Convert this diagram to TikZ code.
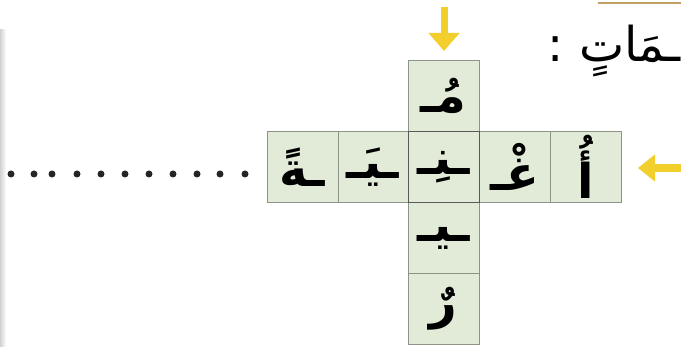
\documentclass[tikz,border=0pt]{standalone}
\usepackage{fontspec}
\usetikzlibrary{arrows.meta}
\TeXXeTstate=1
\newfontfamily\arabicfont[Script=Arabic]{DejaVu Sans}
\definecolor{cellfill}{HTML}{E2EAD8}
\definecolor{celldraw}{HTML}{8C9488}
\definecolor{arrowyel}{HTML}{F2CF2C}
\definecolor{goldline}{HTML}{BFA263}
\tikzset{
  cell/.style={draw=celldraw, fill=cellfill, line width=0.9pt, minimum width=71pt, minimum height=71pt, inner sep=0pt, font=\arabicfont\bfseries\fontsize{48}{52}\selectfont},
  yelarrow/.style={draw=none, fill=arrowyel},
  dotmark/.style={circle, fill=black!85, minimum size=7pt, inner sep=0pt}
}
\begin{document}
\begin{tikzpicture}[x=1pt,y=-1pt]
\useasboundingbox (0,0) rectangle (681,347);
\fill[white] (0,0) rectangle (681,347);
\shade[left color=black!18, right color=white] (0,30) rectangle (6,347);
\draw[goldline, line width=2pt] (598,3) -- (681,3);
% header text
\node[anchor=base east, inner sep=0pt, font=\arabicfont\fontsize{48}{56}\selectfont] (head) at (681,62) {\beginR ـمَاتٍ :\endR};
% horizontal row
\node[cell] (h1) at (586,167) {\beginR أُ\endR};
\node[cell] (h2) at (515,167) {\beginR غْـ\endR};
\node[cell] (h4) at (373,167) {\beginR ـيَـ\endR};
\node[cell] (h5) at (302.5,167) {\beginR ـةً\endR};
% vertical column
\node[cell] (v1) at (443.5,96) {\beginR مُـ\endR};
\node[cell] (v3) at (443.5,238) {\beginR ـيـ\endR};
\node[cell] (v4) at (443.5,308.5) {\beginR رٌ\endR};
\node[cell, draw=black!65] (h3) at (443.5,167) {\beginR ـنِـ\endR};
% arrows
\coordinate (dTop) at (444,7);
\coordinate (dTip) at (444,51);
\draw[arrowyel, line width=7pt, -{Triangle[width=30pt,length=18pt]}] (dTop) -- (dTip);
\coordinate (lTail) at (681,168);
\coordinate (lTip) at (638,168);
\draw[arrowyel, line width=8pt, -{Triangle[width=26pt,length=17pt]}] (lTail) -- (lTip);
% dots
\foreach \i/\xx in {1/11,2/34,3/52,4/77,5/101,6/125,7/149,8/173,9/197,10/220,11/245}
  \node[dotmark] (d\i) at (\xx,174) {};
\end{tikzpicture}
\end{document}
